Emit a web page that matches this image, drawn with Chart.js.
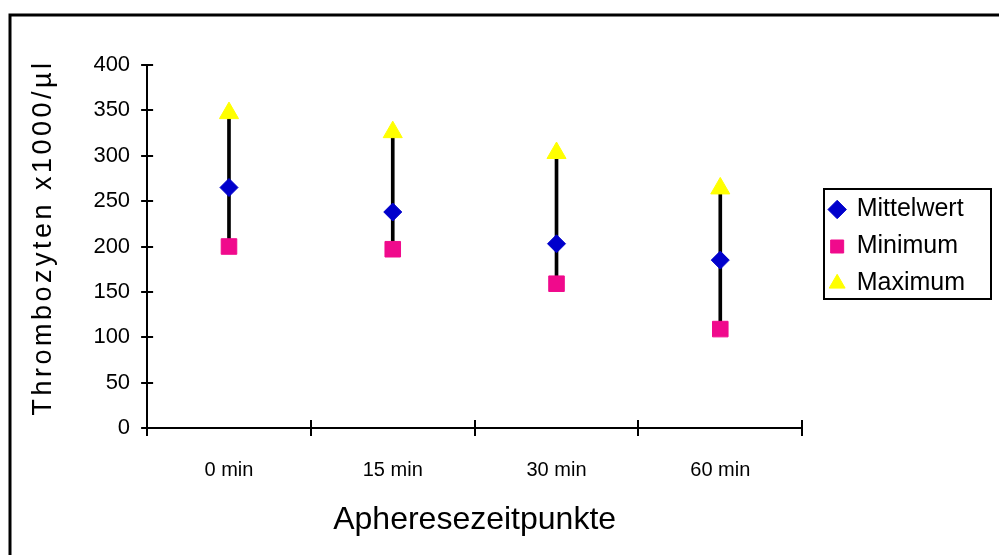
<!DOCTYPE html>
<html>
<head>
<meta charset="utf-8">
<script src="https://cdn.jsdelivr.net/npm/chart.js@4/dist/chart.umd.min.js"></script>
<style>
  html, body { margin: 0; padding: 0; background: #fff; }
  #wrap { width: 999px; height: 555px; }
</style>
</head>
<body>
<div id="wrap"><canvas id="chart"></canvas></div>
<script>
// data
var categories = ['0 min', '15 min', '30 min', '60 min'];
var mittelwert = [265, 238, 203, 185];
var minimum = [200, 197, 159, 109];
var maximum = [347, 326, 303, 264];
var yMin = 0, yMax = 400, yStep = 50;

// high-low range built from min / max
var range = minimum.map(function (v, i) { return [v, maximum[i]]; });

var FONT = 'Liberation Sans, Arial, sans-serif';

// frame, crossing ticks and legend box
var decoPlugin = {
  id: 'deco',
  beforeDraw: function (chart) {
    var c = chart.ctx;
    c.save();
    c.fillStyle = '#fff';
    c.fillRect(0, 0, chart.width, chart.height);
    c.strokeStyle = '#000';
    c.lineWidth = 3;
    c.beginPath();
    c.moveTo(10, chart.height);
    c.lineTo(10, 15);
    c.lineTo(chart.width, 15);
    c.stroke();
    c.restore();
  },
  afterLayout: function (chart) {
    var ys = chart.scales.y;
    if (!ys._patched) {
      var orig = ys.drawTitle;
      // wide spaced y title, sitting a little above centre like the original
      ys.drawTitle = function () {
        this.ctx.save();
        this.ctx.letterSpacing = '3.5px';
        this.ctx.translate(0, -9);
        orig.apply(this, arguments);
        this.ctx.restore();
      };
      ys._patched = true;
    }
  },
  afterDraw: function (chart) {
    var c = chart.ctx, xs = chart.scales.x, ys = chart.scales.y, a = chart.chartArea;
    c.save();
    c.strokeStyle = '#000';
    c.lineWidth = 2;
    c.beginPath();
    ys.ticks.forEach(function (t) {
      var py = Math.round(ys.getPixelForValue(t.value));
      c.moveTo(a.left, py);
      c.lineTo(a.left + 6, py);
    });
    for (var i = 0; i <= categories.length; i++) {
      var px = Math.round(xs.getPixelForValue(i - 0.5));
      c.moveTo(px, a.bottom);
      c.lineTo(px, a.bottom - 8);
    }
    c.stroke();
    // box round the legend items
    var hb = chart.legend.legendHitBoxes;
    if (hb && hb.length) {
      var l = Infinity, r = -Infinity, t = Infinity, b = -Infinity;
      hb.forEach(function (h) {
        l = Math.min(l, h.left); r = Math.max(r, h.left + h.width);
        t = Math.min(t, h.top); b = Math.max(b, h.top + h.height);
      });
      c.lineWidth = 2;
      c.strokeRect(Math.round(l - 6), Math.round(t - 8), Math.round(r - l + 32), Math.round(b - t + 11));
    }
    c.restore();
  }
};

var ctx = document.getElementById('chart').getContext('2d');
var chart = new Chart(ctx, {
  type: 'bar',
  data: {
    labels: categories,
    datasets: [
      {
        type: 'line',
        label: 'Mittelwert',
        data: mittelwert,
        showLine: false,
        pointStyle: 'rectRot',
        pointRadius: 9,
        backgroundColor: '#0000CC',
        borderColor: '#0000CC',
        borderWidth: 1,
        order: 1
      },
      {
        type: 'line',
        label: 'Minimum',
        data: minimum,
        showLine: false,
        pointStyle: 'rect',
        pointRadius: 11,
        backgroundColor: '#F00A8C',
        borderColor: '#F00A8C',
        borderWidth: 1,
        order: 2
      },
      {
        type: 'line',
        label: 'Maximum',
        data: maximum,
        showLine: false,
        pointStyle: 'triangle',
        pointRadius: 11,
        backgroundColor: '#FFFF00',
        borderColor: '#FFFF00',
        borderWidth: 1,
        order: 3
      },
      {
        label: 'range',
        data: range,
        backgroundColor: '#000',
        barThickness: 3,
        order: 4
      }
    ]
  },
  options: {
    responsive: true,
    maintainAspectRatio: false,
    animation: false,
    layout: { padding: { left: 27, top: 65, right: 24, bottom: 19 } },
    plugins: {
      tooltip: { enabled: false },
      legend: {
        position: 'right',
        fullSize: false,
        labels: {
          filter: function (item) { return item.text !== 'range'; },
          usePointStyle: true,
          boxWidth: 14,
          boxHeight: 13,
          padding: 12,
          color: '#000',
          font: { family: FONT, size: 25 }
        }
      }
    },
    scales: {
      x: {
        offset: true,
        grid: {
          offset: true,
          drawOnChartArea: false,
          color: '#000',
          lineWidth: 2,
          tickLength: 8
        },
        border: { color: '#000', width: 2 },
        ticks: {
          color: '#000',
          padding: 22,
          font: { family: FONT, size: 20 }
        },
        title: {
          display: true,
          text: 'Apheresezeitpunkte',
          color: '#000',
          padding: { top: 0, bottom: 0 },
          font: { family: FONT, size: 32, lineHeight: 1 }
        }
      },
      y: {
        min: yMin,
        max: yMax,
        grid: {
          drawOnChartArea: false,
          color: '#000',
          lineWidth: 2,
          tickLength: 6
        },
        border: { color: '#000', width: 2 },
        ticks: {
          stepSize: yStep,
          color: '#000',
          padding: 11,
          font: { family: FONT, size: 22 }
        },
        title: {
          display: true,
          text: 'Thrombozyten x1000/µl',
          color: '#000',
          padding: { top: 0, bottom: 23 },
          font: { family: FONT, size: 27 }
        }
      },
      // empty spacer between plot and legend
      gap: {
        position: 'right',
        display: true,
        grid: { display: false },
        border: { display: false },
        ticks: { display: false },
        afterFit: function (scale) { scale.width = 16; }
      }
    }
  },
  plugins: [decoPlugin]
});
</script>
</body>
</html>
